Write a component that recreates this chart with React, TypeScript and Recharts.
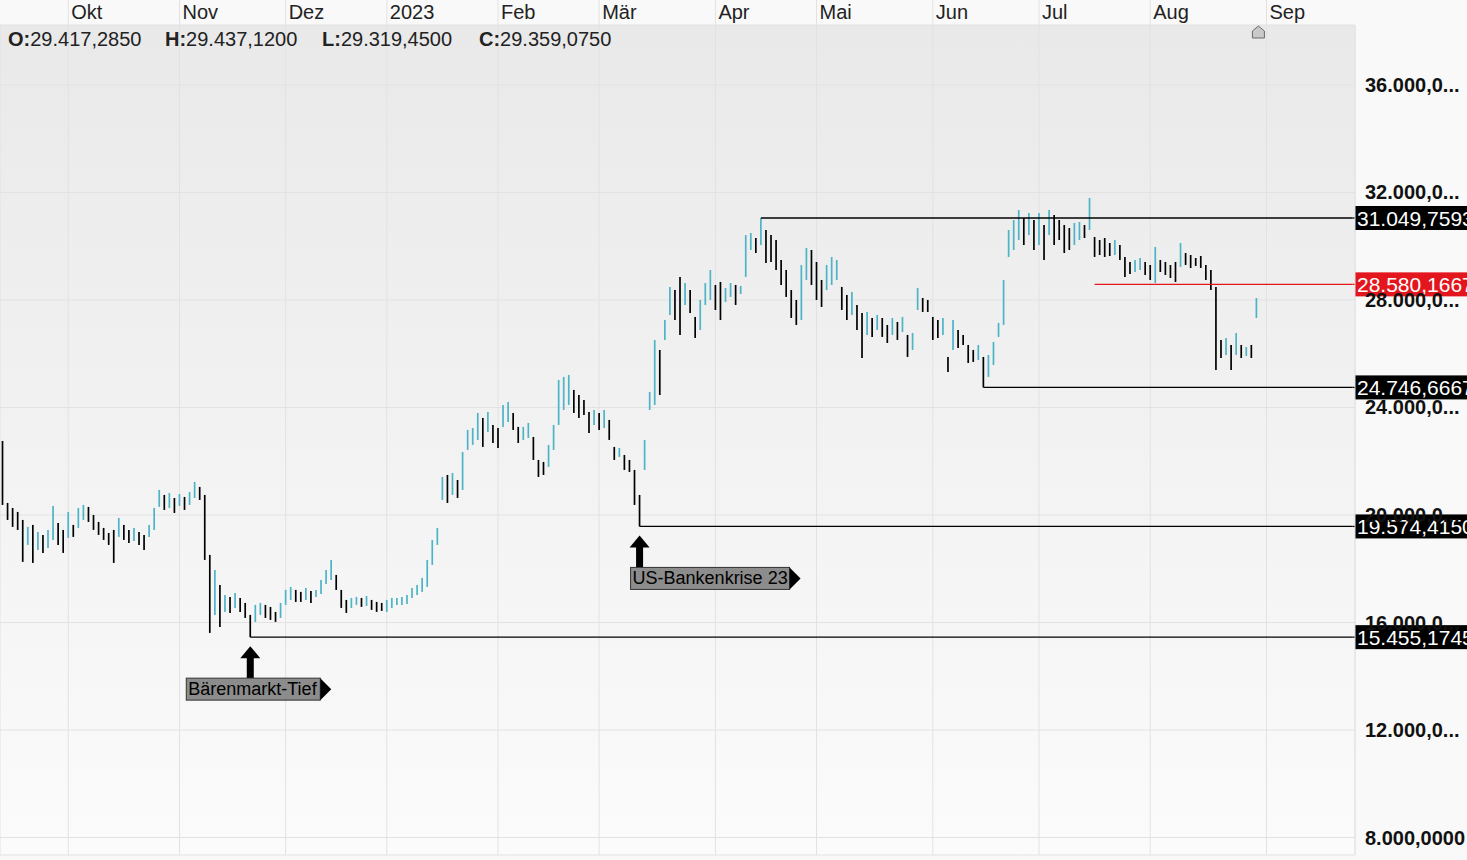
import React from 'react';
import { ComposedChart, Bar, XAxis, YAxis, CartesianGrid, ReferenceLine, ReferenceDot } from 'recharts';

// Achse oben: Monatsanfaenge (Index der Handelstage)
const monthNames = ['Okt', 'Nov', 'Dez', '2023', 'Feb', 'Mär', 'Apr', 'Mai', 'Jun', 'Jul', 'Aug', 'Sep'];
const monthStarts = [13, 35, 56, 76, 98, 118, 141, 161, 184, 205, 227, 250];

const highs = [
  22755, 20448, 20262, 20114, 19816, 19556, 19630, 19370, 19258, 19444,
  20337, 19704, 19444, 20114, 19630, 20262, 20374, 20300, 20002, 19742,
  19518, 19332, 19444, 19890, 19630, 19444, 19518, 19370, 19258, 19630,
  20262, 20932, 20746, 20820, 20634, 20783, 20672, 20858, 21230, 21044,
  20746, 18514, 17956, 17398, 17026, 16952, 17100, 16914, 16728, 16282,
  16654, 16728, 16654, 16580, 16394, 16728, 17212, 17324, 17212, 17138,
  17286, 17175, 17212, 17584, 17956, 18328, 17770, 17212, 16840, 16914,
  16952, 16914, 16989, 16840, 16766, 16728, 16840, 16914, 16914, 16952,
  17026, 17286, 17398, 17658, 18328, 19072, 19518, 21416, 21490, 21564,
  21304, 22346, 23164, 23238, 23796, 23610, 23834, 23350, 23238, 24094,
  24206, 23796, 23276, 23276, 23424, 22904, 22048, 21974, 22606, 23350,
  25024, 25136, 25210, 24652, 24466, 24280, 23834, 23908, 23796, 23908,
  23536, 22532, 22494, 22234, 22048, 21676, 20746, 22792, 24578, 26512,
  26140, 27256, 28484, 28372, 28856, 28632, 28372, 27368, 28000, 28632,
  29116, 28558, 28670, 28446, 28632, 28558, 28521, 30418, 30492, 30306,
  31050, 30604, 30418, 30232, 29488, 29116, 28372, 28000, 29302, 29934,
  29860, 29414, 28744, 29302, 29600, 29488, 28484, 28186, 28298, 27814,
  27516, 27554, 27330, 27442, 27330, 27070, 27330, 27182, 27368, 26698,
  26772, 28446, 28074, 28000, 27368, 27256, 27330, 25880, 27256, 26884,
  26698, 26326, 26140, 26326, 25880, 25954, 26438, 27144, 28744, 30604,
  30976, 31348, 31050, 31236, 30976, 31236, 30790, 31348, 31162, 30976,
  30790, 30678, 30864, 30902, 30790, 31790, 30344, 30232, 30306, 30120,
  30232, 30046, 29600, 29414, 29488, 29562, 29414, 29302, 29972, 29488,
  29414, 29302, 29414, 30120, 29748, 29674, 29562, 29637, 29302, 29116,
  28484, 26512, 26586, 26326, 26772, 26326, 26252, 26326, 28074,
];

const lows = [
  20374, 19816, 19556, 19444, 18254, 18886, 18216, 18700, 18588, 18774,
  19072, 18886, 18588, 19146, 19184, 19518, 19816, 19742, 19444, 19258,
  19072, 18886, 18216, 19184, 19072, 18960, 19035, 18886, 18700, 19184,
  19444, 20300, 20188, 20262, 20076, 20337, 20188, 20374, 20634, 20560,
  18328, 15612, 16282, 15836, 16394, 16356, 16542, 16394, 16170, 15455,
  16022, 16282, 16170, 16096, 16022, 16170, 16654, 16840, 16766, 16766,
  16840, 16728, 16952, 17063, 17435, 17584, 17212, 16542, 16356, 16542,
  16654, 16580, 16617, 16468, 16394, 16431, 16394, 16542, 16654, 16654,
  16691, 16914, 17026, 17138, 17324, 18142, 18886, 20560, 20448, 20746,
  20634, 20932, 22420, 22606, 22792, 22532, 23090, 22680, 22494, 23276,
  23462, 23164, 22680, 22792, 22866, 22048, 21416, 21490, 21788, 22420,
  23350, 23908, 24094, 23796, 23610, 23722, 23052, 23350, 23164, 23238,
  22792, 22048, 22160, 21676, 21602, 20374, 19574, 21676, 23908, 24094,
  24466, 26512, 27442, 27256, 26698, 27814, 27516, 26586, 26884, 27814,
  28000, 27628, 27256, 27926, 28112, 27814, 28223, 28856, 29860, 29748,
  30046, 29376, 29414, 29116, 28558, 28112, 27330, 27070, 27256, 28744,
  28558, 28000, 27740, 28372, 28558, 28744, 27628, 27256, 27442, 26884,
  25842, 26698, 26624, 26884, 26624, 26400, 26698, 26512, 26810, 25880,
  26140, 27628, 27554, 27554, 26512, 26586, 26698, 25322, 26140, 26214,
  26326, 25656, 25694, 25768, 24747, 25136, 25582, 26624, 27070, 29600,
  29860, 30232, 30046, 30418, 29860, 30046, 29488, 30418, 30046, 30232,
  29748, 29860, 30046, 30232, 30306, 30604, 29600, 29674, 29600, 29637,
  29674, 29488, 28856, 28967, 29042, 29116, 28930, 28744, 28632, 29042,
  28930, 28818, 28670, 29228, 29302, 29190, 29265, 29190, 28744, 28372,
  25396, 25842, 25954, 25396, 25954, 25842, 25917, 25842, 27330,
];

const yTicks = [8000, 12000, 16000, 20000, 24000, 28000, 32000, 36000];
const yDomain = [7350, 38230];

// Horizontale Marken mit Startindex
const levels = [
  { value: 31049.7593, from: 150, color: '#000000' },
  { value: 28580.1667, from: 216, color: '#e3161d' },
  { value: 24746.6667, from: 194, color: '#000000' },
  { value: 19574.415, from: 126, color: '#000000' },
  { value: 15455.1745, from: 49, color: '#000000' },
];

const notes = [
  { idx: 49, value: 15455.1745, text: 'Bärenmarkt-Tief', dx: -64, w: 134 },
  { idx: 126, value: 19574.415, text: 'US-Bankenkrise 23', dx: -9, w: 159 },
];

const header = [
  { k: 'O:', v: '29.417,2850' },
  { k: 'H:', v: '29.437,1200' },
  { k: 'L:', v: '29.319,4500' },
  { k: 'C:', v: '29.359,0750' },
];

const SLOTS = 268;
const W = 1467;
const H = 860;
const AXIS_W = 112;
const HALF_BAND = (W - AXIS_W) / SLOTS / 2;
const TEAL = '#4db3c6';
const FONT = '"Liberation Sans", Arial, sans-serif';

const fmt = (v: number, d: number) => {
  const [a, b] = v.toFixed(d).split('.');
  return a.replace(/\B(?=(\d{3})+(?!\d))/g, '.') + ',' + b;
};

const data = Array.from({ length: SLOTS }, (_, i) => {
  if (i >= highs.length) return { i, range: null, up: false };
  const mid = (highs[i] + lows[i]) / 2;
  const prev = i > 0 ? (highs[i - 1] + lows[i - 1]) / 2 : mid;
  return { i, range: [lows[i], highs[i]], up: mid > prev };
});

const BarShape = (props: any) => {
  const { x, y, width, height, payload } = props;
  if (!payload || !payload.range) return null;
  const cx = x + width / 2;
  return (
    <line x1={cx} x2={cx} y1={y} y2={y + height} stroke={payload.up ? TEAL : '#000'} strokeWidth={1.7} />
  );
};

const MonthTick = (props: any) => {
  const { x, payload } = props;
  const idx = monthStarts.indexOf(payload.value);
  return (
    <g>
      <line x1={x} x2={x} y1={0} y2={25} stroke="#e2e2e2" />
      <text x={x + 3} y={19} fontSize={20} fontFamily={FONT} fill="#222">
        {monthNames[idx]}
      </text>
    </g>
  );
};

const PriceTick = (props: any) => {
  const { x, y, payload } = props;
  let s = fmt(payload.value, 4);
  if (s.length > 10) s = s.slice(0, 8) + '...';
  return (
    <text x={x + 2} y={y} dy={7} fontSize={20} fontWeight="bold" fontFamily={FONT} fill="#111">
      {s}
    </text>
  );
};

const LevelBox = (props: any) => {
  const { viewBox, value, color } = props;
  if (!viewBox) return null;
  const right = viewBox.x + viewBox.width;
  const cy = viewBox.y;
  return (
    <g>
      <line x1={right} x2={right + HALF_BAND} y1={cy} y2={cy} stroke={color} strokeWidth={1.3} />
      <rect x={right + HALF_BAND} y={cy - 12} width={AXIS_W} height={24} fill={color} />
      <text x={right + HALF_BAND + 2} y={cy + 8} fontSize={21} fontFamily={FONT} fill="#fff">
        {fmt(value, 4)}
      </text>
    </g>
  );
};

const NoteShape = (props: any) => {
  const { cx, cy, text, dx, w } = props;
  const tip = cy + 9;
  const boxTop = cy + 41;
  const bx = cx + dx;
  return (
    <g>
      <polygon points={`${cx},${tip} ${cx - 10},${tip + 12} ${cx + 10},${tip + 12}`} fill="#000" />
      <rect x={cx - 3.5} y={tip + 11} width={7} height={boxTop - tip - 11} fill="#000" />
      <rect x={bx} y={boxTop} width={w} height={22} fill="#8c8c8c" stroke="#333" strokeWidth={1} />
      <polygon points={`${bx + w},${boxTop} ${bx + w + 11},${boxTop + 11} ${bx + w},${boxTop + 22}`} fill="#000" />
      <text x={bx + 2} y={boxTop + 17} fontSize={18} fontFamily={FONT} fill="#000">
        {text}
      </text>
    </g>
  );
};

const HomeMark = (props: any) => {
  const { cx, cy } = props;
  const x = cx + 2;
  return (
    <polygon
      points={`${x},${cy + 1} ${x + 6},${cy + 6} ${x + 6},${cy + 13} ${x - 6},${cy + 13} ${x - 6},${cy + 6}`}
      fill="#c9c9c9"
      stroke="#6a6a6a"
      strokeWidth={1}
    />
  );
};

export default function App() {
  return (
    <div style={{ position: 'relative', width: W, height: H, background: '#f9f9f9', fontFamily: FONT }}>
      <style>{'body{margin:0}'}</style>
      <ComposedChart width={W} height={H} data={data} margin={{ top: 0, right: 0, bottom: 5, left: 0 }}>
        <defs>
          <linearGradient id="plotBg" x1="0" y1="0" x2="0" y2="1">
            <stop offset="0" stopColor="#e9e9e9" />
            <stop offset="1" stopColor="#fbfbfb" />
          </linearGradient>
        </defs>
        <CartesianGrid stroke="#e2e2e2" fill="url(#plotBg)" />
        <XAxis
          dataKey="i"
          orientation="top"
          height={25}
          ticks={monthStarts}
          interval={0}
          tick={<MonthTick />}
          tickLine={false}
          axisLine={false}
        />
        <YAxis
          orientation="right"
          width={AXIS_W}
          type="number"
          domain={yDomain}
          allowDataOverflow
          ticks={yTicks}
          tick={<PriceTick />}
          tickLine={false}
          axisLine={{ stroke: '#e4e4e4' }}
        />
        <Bar dataKey="range" shape={<BarShape />} isAnimationActive={false} />
        {levels.map((l) => (
          <ReferenceLine
            key={l.value}
            segment={[{ x: l.from, y: l.value }, { x: SLOTS - 1, y: l.value }]}
            stroke={l.color}
            strokeWidth={1.3}
            ifOverflow="visible"
            label={<LevelBox value={l.value} color={l.color} />}
          />
        ))}
        {notes.map((n) => (
          <ReferenceDot
            key={n.text}
            x={n.idx}
            y={n.value}
            r={0}
            ifOverflow="visible"
            shape={<NoteShape text={n.text} dx={n.dx} w={n.w} />}
          />
        ))}
        <ReferenceDot x={highs.length - 1} y={yDomain[1]} r={0} ifOverflow="visible" shape={<HomeMark />} />
      </ComposedChart>
      <div style={{ position: 'absolute', left: 8, top: 28, fontSize: 20, color: '#222', whiteSpace: 'nowrap', display: 'flex' }}>
        {header.map((h) => (
          <span key={h.k} style={{ width: 157 }}>
            <b>{h.k}</b>
            {h.v}
          </span>
        ))}
      </div>
    </div>
  );
}
